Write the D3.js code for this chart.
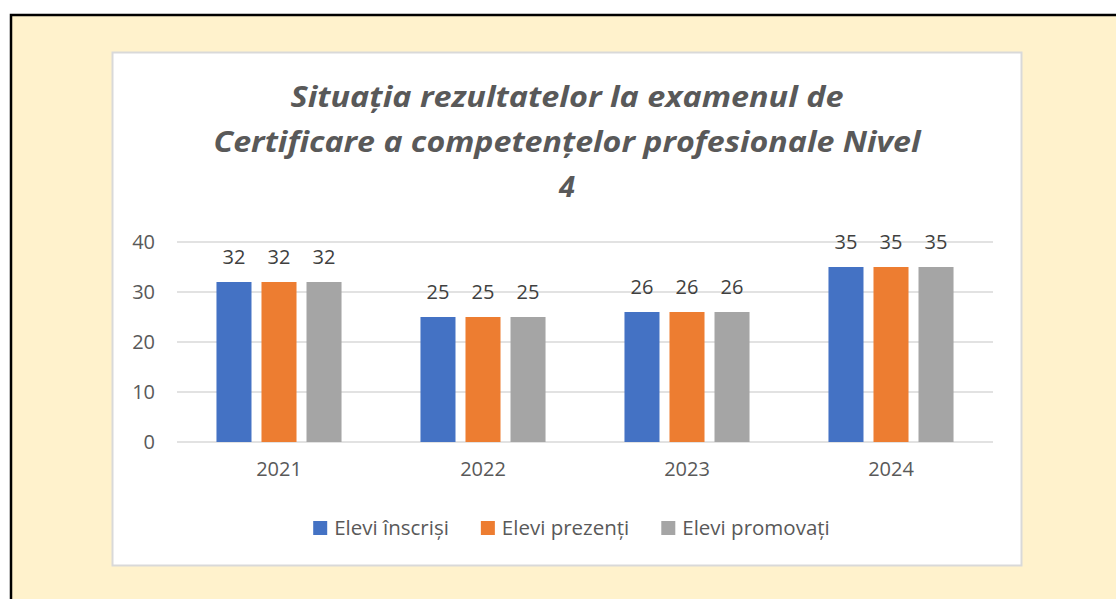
<!DOCTYPE html>
<html>
<head>
<meta charset="utf-8">
<script src="https://cdn.jsdelivr.net/npm/d3@7"></script>
<style>
  html, body { margin: 0; padding: 0; background: #ffffff; }
  svg { display: block; }
</style>
</head>
<body>
<svg id="chart" width="1116" height="599"></svg>
<script>
const titleLines = ["Situația rezultatelor la examenul de", "Certificare a competențelor profesionale Nivel", "4"];
const categories = ["2021", "2022", "2023", "2024"];
const seriesNames = ["Elevi înscriși", "Elevi prezenți", "Elevi promovați"];
const elevInscrisi = [32, 25, 26, 35];
const elevPrezenti = [32, 25, 26, 35];
const elevPromovati = [32, 25, 26, 35];
const yTicks = [0, 10, 20, 30, 40];

const seriesValues = [elevInscrisi, elevPrezenti, elevPromovati];
const colors = ["#4472C4", "#ED7D31", "#A5A5A5"];
const textColor = "#595959";
const font = "'Open Sans', 'DejaVu Sans', sans-serif";

const svg = d3.select("#chart");

// outer framed background
svg.append("rect").attr("x", 11).attr("y", 15).attr("width", 1200).attr("height", 700)
  .attr("fill", "#FFF2CC").attr("stroke", "#000").attr("stroke-width", 2.5);

// chart box
svg.append("rect").attr("x", 112.5).attr("y", 52.5).attr("width", 909).attr("height", 513)
  .attr("fill", "#ffffff").attr("stroke", "#D9D9D9").attr("stroke-width", 2);

// title
const titleWidths = [553, 707, null];
const titleBaselines = [107, 152, 197];
const cx = 567;
titleLines.forEach((t, i) => {
  const el = svg.append("text")
    .attr("x", cx).attr("y", titleBaselines[i])
    .attr("text-anchor", "middle")
    .attr("font-family", font)
    .attr("font-style", "italic")
    .attr("font-weight", "bold")
    .attr("font-size", 29)
    .attr("fill", textColor)
    .text(t);
  if (titleWidths[i]) el.attr("textLength", titleWidths[i]).attr("lengthAdjust", "spacingAndGlyphs");
});

// scales
const y = d3.scaleLinear().domain([0, 40]).range([442, 242]);
const x0 = d3.scaleBand().domain(categories).range([177, 993]).paddingInner(0.387).paddingOuter(0.1935);
const x1 = d3.scaleBand().domain(seriesNames).range([0, x0.bandwidth()]).paddingInner(0.222).paddingOuter(0);

// gridlines
svg.append("g").selectAll("line").data(yTicks).join("line")
  .attr("x1", 177).attr("x2", 993)
  .attr("y1", d => y(d)).attr("y2", d => y(d))
  .attr("stroke", "#D9D9D9").attr("stroke-width", 1.5);

// y axis labels
const yAxis = d3.axisLeft(y).tickValues(yTicks).tickSize(0).tickPadding(0).tickFormat(d3.format("d"));
const yg = svg.append("g").attr("transform", "translate(155,0)").call(yAxis);
yg.select(".domain").remove();
yg.selectAll("text").attr("font-family", font).attr("font-size", 20).attr("fill", textColor).attr("dy", "0.34em");

// x axis labels
const xAxis = d3.axisBottom(x0).tickSize(0).tickPadding(0);
const xg = svg.append("g").attr("transform", "translate(0,462)").call(xAxis);
xg.select(".domain").remove();
xg.selectAll("text").attr("font-family", font).attr("font-size", 20).attr("fill", textColor).attr("dy", "0.71em");

// bars
const groups = svg.append("g").selectAll("g").data(categories).join("g")
  .attr("transform", d => `translate(${x0(d)},0)`);
groups.each(function(cat, ci) {
  const g = d3.select(this);
  seriesNames.forEach((s, si) => {
    const v = seriesValues[si][ci];
    g.append("rect")
      .attr("x", x1(s)).attr("width", x1.bandwidth())
      .attr("y", y(v)).attr("height", y(0) - y(v))
      .attr("fill", colors[si]);
    g.append("text")
      .attr("x", x1(s) + x1.bandwidth() / 2)
      .attr("y", y(v) - 18)
      .attr("text-anchor", "middle")
      .attr("font-family", font).attr("font-size", 20).attr("fill", "#404040")
      .text(v);
  });
});

// legend
const legend = svg.append("g");
const items = legend.selectAll("g").data(seriesNames).join("g");
items.append("rect").attr("width", 14).attr("height", 14).attr("y", -14).attr("fill", (d, i) => colors[i]);
items.append("text").attr("x", 21).attr("font-family", font).attr("font-size", 20.5).attr("fill", textColor).text(d => d);
let xpos = 0;
const positions = [];
items.each(function() {
  const w = d3.select(this).select("text").node().getComputedTextLength();
  positions.push(xpos);
  xpos += 21 + w + 32;
});
const totalW = xpos - 32;
const startX = 571.5 - totalW / 2;
items.attr("transform", (d, i) => `translate(${startX + positions[i]},535)`);
</script>
</body>
</html>
